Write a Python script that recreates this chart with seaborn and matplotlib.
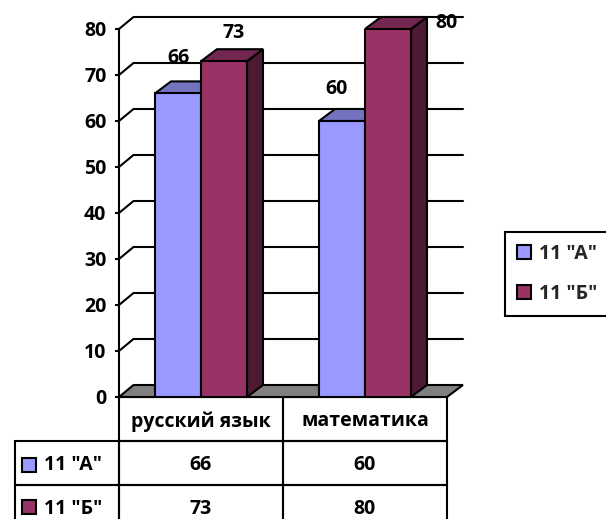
import pandas as pd
import seaborn as sns
import matplotlib.pyplot as plt
from matplotlib.patches import Polygon, Rectangle
from matplotlib.table import Table
from matplotlib.transforms import Affine2D

subjects = ['русский язык', 'математика']
classes = ['11 "А"', '11 "Б"']
values_a = [66, 60]
values_b = [73, 80]
y_ticks = [0, 10, 20, 30, 40, 50, 60, 70, 80]

front_colors = ['#9999FF', '#993366']
top_colors = ['#7373C0', '#732650']
side_colors = ['#5C5C99', '#4D1933']

W, H = 606, 519
LW = 1.5
FS = 14

sns.set_theme(style='white')
plt.rcParams['font.family'] = ['Open Sans', 'DejaVu Sans']
plt.rcParams['font.weight'] = 'bold'
plt.rcParams['font.size'] = FS

df = pd.DataFrame({
    'subject': subjects * 2,
    'class': [classes[0]] * 2 + [classes[1]] * 2,
    'value': values_a + values_b,
})

fig = plt.figure(figsize=(W / 100, H / 100), dpi=100)
# plot area of the front plane, in pixels: x 119..447, y 29..397
ax = fig.add_axes([119 / W, 1 - 397 / H, 328 / W, 368 / H])
sns.barplot(data=df, x='subject', y='value', hue='class', hue_order=classes,
            palette=front_colors, width=92 / 164, gap=0, saturation=1,
            edgecolor='black', linewidth=LW, ax=ax, legend=False)
ax.set_xlim(-0.5, 1.5)
ax.set_ylim(0, 80)
ax.set_xlabel('')
ax.set_ylabel('')
ax.set_xticks([])
ax.set_yticks(y_ticks)
ax.tick_params(axis='y', length=3, width=LW, color='black', pad=6, left=True,
               labelsize=FS, labelcolor='black')
for lab in ax.get_yticklabels():
    lab.set_fontweight('bold')
for s in ['top', 'right', 'bottom']:
    ax.spines[s].set_visible(False)
ax.spines['left'].set_linewidth(LW)
ax.spines['left'].set_color('black')
ax.patch.set_alpha(0)

# depth of the fake 3d box, in data units
px_x = 2 / 328
px_y = 80 / 368
wall_dx, wall_dy = 14.5 * px_x, 12 * px_y
bar_dx, bar_dy = 16 * px_x, 12 * px_y

# floor
x0, x1 = ax.get_xlim()
ax.add_patch(Polygon([(x0, 0), (x0 + wall_dx, wall_dy), (x1 + wall_dx * 1.1, wall_dy), (x1, 0)],
                     facecolor='#808080', edgecolor='black', lw=LW, clip_on=False, zorder=1))
# back wall gridlines and the slanted bits on the left wall
for t in y_ticks[1:]:
    ax.plot([x0, x0 + wall_dx], [t, t + wall_dy], color='black', lw=LW, clip_on=False, zorder=1)
    ax.plot([x0 + wall_dx, x1 + wall_dx * 1.1], [t + wall_dy] * 2, color='black', lw=LW,
            clip_on=False, zorder=1)

# sides and tops of the bars
for i, cont in enumerate(ax.containers):
    for bar in cont:
        l, r, h = bar.get_x(), bar.get_x() + bar.get_width(), bar.get_height()
        z = 3 + i
        bar.set_zorder(z + 0.5)
        ax.add_patch(Polygon([(r, 0), (r + bar_dx, bar_dy), (r + bar_dx, h + bar_dy), (r, h)],
                             facecolor=side_colors[i], edgecolor='black', lw=LW,
                             clip_on=False, zorder=z))
        ax.add_patch(Polygon([(l, h), (l + bar_dx, h + bar_dy), (r + bar_dx, h + bar_dy), (r, h)],
                             facecolor=top_colors[i], edgecolor='black', lw=LW,
                             clip_on=False, zorder=z))

# data labels sit a bit off the bars, each one in its own place
label_offsets = [[(0, 35), (-5, 32)], [(10, 28), (58, 6)]]
for i, cont in enumerate(ax.containers):
    for j, bar in enumerate(cont):
        ox, oy = label_offsets[i][j]
        ax.annotate(str(int(bar.get_height())),
                    (bar.get_x() + bar.get_width() / 2, bar.get_height()),
                    xytext=(ox * 0.72, oy * 0.72), textcoords='offset points',
                    ha='center', va='center', color='black', zorder=10,
                    fontweight='bold', annotation_clip=False)

# data table under the plot
px = Affine2D().scale(1, -1).translate(0, H)
col_w = 164 / 328
head_w = 104 / 328
row_h = 44 / 368
# bbox only counts the two value columns, the header column hangs off to the left
tab = Table(ax, bbox=[0, -132 / 368, 1, 132 / 368])
tab.add_cell(0, 0, col_w, row_h, text=subjects[0], loc='center')
tab.add_cell(0, 1, col_w, row_h, text=subjects[1], loc='center')
for r, (name, vals) in enumerate(zip(classes, [values_a, values_b]), start=1):
    tab.add_cell(r, -1, head_w, row_h, text=name, loc='left')
    for c, v in enumerate(vals):
        tab.add_cell(r, c, col_w, row_h, text=str(v), loc='center')
tab.auto_set_font_size(False)
for (r, c), cell in tab.get_celld().items():
    cell.set_linewidth(LW)
    cell.set_edgecolor('black')
    cell.set_facecolor('none')
    txt = cell.get_text()
    txt.set_fontsize(FS)
    txt.set_fontweight('bold')
    txt.set_color('black')
    # cell text is placed in display pixels, nudge it down a little
    txt.set_transform(Affine2D().translate(0, -2.5))
    if c == -1:
        cell.PAD = 0.28
ax.add_table(tab)

# small colour keys in the table row headers
for ypos, color in zip([465, 507], front_colors):
    fig.add_artist(Rectangle((22, ypos - 7), 14, 14, facecolor=color, edgecolor='black',
                             lw=LW, transform=px))

# legend box on the right, runs off the edge of the picture
handles = [Rectangle((0, 0), 1, 1, facecolor=c, edgecolor='black', lw=LW) for c in front_colors]
leg = fig.legend(handles, classes, loc='upper left', bbox_to_anchor=(505 / W, 1 - 232 / H),
                 fancybox=False, framealpha=1, edgecolor='black',
                 prop={'size': FS, 'weight': 'bold'},
                 handlelength=0.72, handleheight=0.72, handletextpad=0.45,
                 labelspacing=1.05, borderpad=0.6, borderaxespad=0)
leg.get_frame().set_linewidth(LW)

fig.savefig('out.png', dpi=100)
